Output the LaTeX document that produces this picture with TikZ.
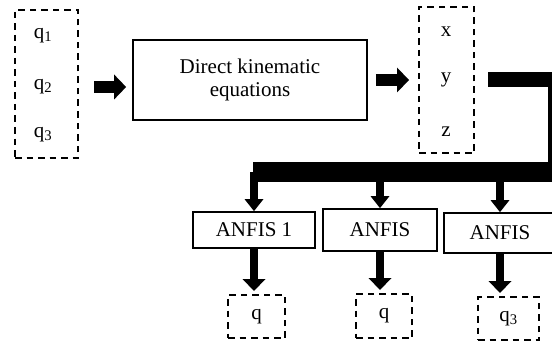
\documentclass[tikz,border=0pt]{standalone}
\usepackage{fontspec}
\setmainfont{Liberation Serif}
\usetikzlibrary{arrows.meta}
\usetikzlibrary{calc}

\begin{document}
\begin{tikzpicture}[x=1pt, y=-1pt, font=\fontsize{21}{23.5}\selectfont,
  dashbox/.style={draw, dash pattern=on 6.5pt off 5pt, line width=2pt, inner sep=0pt},
  solidbox/.style={draw, line width=1.8pt, inner sep=0pt, align=center},
  fatarrow/.style={line width=12pt, -{Triangle[length=12pt, width=25pt, line width=0pt]}},
  droparrow/.style={line width=8pt, -{Triangle[length=12pt, width=#1, line width=0pt]}},
  droparrow/.default=19pt]
\useasboundingbox (0,0) rectangle (552,345);
% inputs q1..q3
\node[dashbox, minimum width=63pt, minimum height=148pt] (qin) at (46.5,84) {};
\foreach \i/\y in {1/36, 2/86.5, 3/135}
  \node (q\i) at (43,\y) {q\textsubscript{\i}};
% direct kinematics
\node[solidbox, minimum width=234pt, minimum height=80pt] (dke) at (250,80) {Direct kinematic\\equations};
% outputs x, y, z
\node[dashbox, minimum width=55pt, minimum height=146pt] (xyz) at (446.5,80) {};
\foreach \t/\y in {x/32, y/80, z/132}
  \node (p\t) at (446,\y) {\t};
\draw[fatarrow] ([xshift=15pt, yshift=-3pt]qin.east) -- ([xshift=-6pt, yshift=-7pt]dke.west);
\draw[fatarrow] ([xshift=8pt]dke.east) -- ([xshift=-9pt]xyz.west);
% ANFIS blocks
\node[solidbox, minimum width=122pt, minimum height=36pt] (a1) at (254,230) {ANFIS 1};
\node[solidbox, minimum width=114pt, minimum height=42pt] (a2) at (380,230) {ANFIS};
\node[solidbox, minimum width=112pt, minimum height=40pt] (a3) at (500,233) {ANFIS};
% estimated joints
\node[dashbox, minimum width=57pt, minimum height=43pt] (o1) at (256.5,316.5) {q};
\node[dashbox, minimum width=56pt, minimum height=44pt] (o2) at (384,316) {q};
\node[dashbox, minimum width=61pt, minimum height=43pt] (o3) at (508.5,318.5) {q\textsubscript{3}};
% bus
\coordinate (busR) at (555,172);
\coordinate (busL) at (253,172);
\draw[line width=15pt] ([xshift=13pt]xyz.east) -| (busR);
\draw[line width=20pt] (busR) -- (busL);
\foreach \n in {1,2,3} {
  \draw[droparrow] (a\n.north |- busL) -- (a\n.north);
  \draw[droparrow=23pt, shorten >=3pt] (a\n.south) -- (a\n.south |- o\n.north);
}
\end{tikzpicture}
\end{document}
